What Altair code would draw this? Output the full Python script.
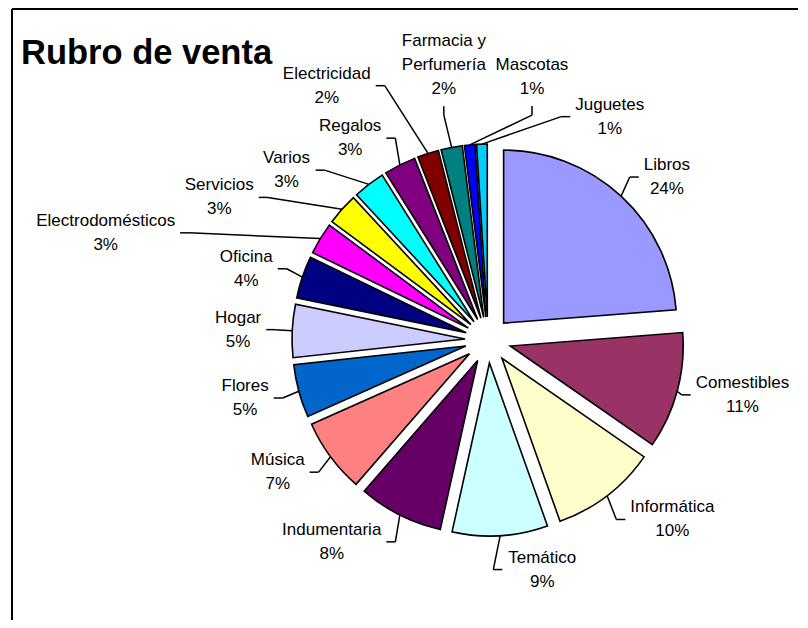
import math
import altair as alt
import pandas as pd

# ---------------- data ----------------
categories = ["Libros", "Comestibles", "Informática", "Temático", "Indumentaria",
              "Música", "Flores", "Hogar", "Oficina", "Electrodomésticos",
              "Servicios", "Varios", "Regalos", "Electricidad",
              "Farmacia y Perfumería", "Mascotas", "Juguetes"]
values = [24, 11, 10, 9, 8, 7, 5, 5, 4, 3, 3, 3, 3, 2, 2, 1, 1]
colors = ["#9999FF", "#993366", "#FFFFCC", "#CCFFFF", "#660066", "#FF8080",
          "#0066CC", "#CCCCFF", "#000080", "#FF00FF", "#FFFF00", "#00FFFF",
          "#800080", "#800000", "#008080", "#0000FF", "#00CCFF"]
title_text = "Rubro de venta"

# ---------------- layout / style ----------------
W, H = 792, 612          # chart size (page minus 8px margins)
CX, CY = 480, 332        # pie centre in chart pixels
RADIUS = 173
EXPLODE = 23
FONT = "Liberation Sans"
FS = 17
LH = 24
R0 = 222                 # default leader-end radius
TOP_EXTRA = 16           # labels sitting above the pie stand a bit further out
GAP = 5
ELBOW = 9

total = float(sum(values))

AW = {' ': 278, '%': 889, 'A': 667, 'B': 667, 'C': 722, 'D': 722, 'E': 667, 'F': 611,
      'G': 778, 'H': 722, 'I': 278, 'J': 500, 'K': 667, 'L': 556, 'M': 833, 'N': 722,
      'O': 778, 'P': 667, 'Q': 778, 'R': 722, 'S': 667, 'T': 611, 'U': 722, 'V': 667,
      'W': 944, 'X': 667, 'Y': 667, 'Z': 611, 'a': 556, 'b': 556, 'c': 500, 'd': 556,
      'e': 556, 'f': 278, 'g': 556, 'h': 556, 'i': 222, 'j': 222, 'k': 500, 'l': 222,
      'm': 833, 'n': 556, 'o': 556, 'p': 556, 'q': 556, 'r': 333, 's': 500, 't': 278,
      'u': 556, 'v': 500, 'w': 722, 'x': 500, 'y': 500, 'z': 500, 'á': 556, 'é': 556,
      'í': 278, 'ó': 556, 'ú': 556}


def text_w(s):
    return sum(AW.get(ch, 556) for ch in s) * FS / 1000.0


def to_ux(px):
    return (px - CX) / RADIUS


def to_uy(py):
    return (CY - py) / RADIUS


def place(a, r, w, h):
    s, c = math.sin(a), math.cos(a)
    if c > 0 and abs(s) < 0.2:
        r += TOP_EXTRA
        ax, ay = CX + r * s, CY - r * c
        bx, by = ax, ay - (GAP + h / 2)
        ex, ey = ax, ay + ELBOW
    else:
        ax, ay = CX + r * s, CY - r * c
        sg = 1 if s >= 0 else -1
        bx, by = ax + sg * (GAP + w / 2), ay
        ex, ey = ax - sg * ELBOW, ay
    return bx, by, ax, ay, ex, ey


def overlaps(r1, r2):
    return not (r1[2] <= r2[0] or r2[2] <= r1[0] or r1[3] <= r2[1] or r2[3] <= r1[1])


def seg_hits(rect, p, q, n=30):
    for k in range(n + 1):
        t = k / n
        x = p[0] + (q[0] - p[0]) * t
        y = p[1] + (q[1] - p[1]) * t
        if rect[0] < x < rect[2] and rect[1] < y < rect[3]:
            return True
    return False


def _orient(p, q, r):
    v = (q[0] - p[0]) * (r[1] - p[1]) - (q[1] - p[1]) * (r[0] - p[0])
    return (v > 1e-9) - (v < -1e-9)


def seg_cross(a, b, c, d):
    return (_orient(a, b, c) * _orient(a, b, d) < 0) and (_orient(c, d, a) * _orient(c, d, b) < 0)


def dist_to_rect(rect):
    dx = max(rect[0] - CX, 0, CX - rect[2])
    dy = max(rect[1] - CY, 0, CY - rect[3])
    return math.hypot(dx, dy)


def move_cost(da, dr):
    return abs(da) * 1.0 + (dr * 0.1 if dr >= 0 else -dr * 0.6)


cands = sorted((move_cost(da, dr), da, dr)
               for da in range(-40, 41, 2) for dr in range(-16, 161, 4))

# slices data table
rows = []
cum = 0.0
for i, (cat, v) in enumerate(zip(categories, values)):
    t0, t1 = cum, cum + v
    cum = t1
    mid = (t0 + t1) / 2 / total * 2 * math.pi
    rows.append({"i": i, "cat": cat, "v": v, "t0": t0, "t1": t1, "mid": mid})

# bigger slices are labelled first; among equals the one nearest the top goes
# first, except the smallest slices, which keep their order round the pie
vmin = min(values)


def priority(r):
    d_top = min(r["mid"], 2 * math.pi - r["mid"])
    return (-r["v"], r["i"] if r["v"] == vmin else d_top)


title_box = (10, 20, 266, 62)
boxes = [title_box]
segs = []
placed = {}
for r in sorted(rows, key=priority):
    mid = r["mid"]
    lines = r["cat"].replace(" y ", " y\n").split("\n") + [f"{round(100 * r['v'] / total)}%"]
    w = max(text_w(l) for l in lines)
    h = LH * len(lines)
    px = CX + (RADIUS + EXPLODE) * math.sin(mid)
    py = CY - (RADIUS + EXPLODE) * math.cos(mid)
    best, best_score = None, None
    for cost, da, dr in cands:
        g = place(mid + math.radians(da), R0 + dr, w, h)
        rect = (g[0] - w / 2 - 3, g[1] - h / 2 - 2, g[0] + w / 2 + 3, g[1] + h / 2 + 2)
        if rect[0] < 6 or rect[2] > W - 6 or rect[1] < 6 or rect[3] > H - 6:
            continue
        if dist_to_rect(rect) < RADIUS + EXPLODE + 8:
            continue
        bad = 1000 * sum(overlaps(rect, b) for b in boxes)
        if best_score is not None and cost + bad >= best_score:
            continue
        new_segs = [((px, py), (g[4], g[5])), ((g[4], g[5]), (g[2], g[3]))]
        bad += 100 * sum(seg_hits(rect, s0, s1) for s0, s1 in segs)
        bad += 100 * sum(seg_hits(b, s0, s1) for b in boxes for s0, s1 in new_segs)
        bad += 100 * sum(seg_cross(a0, a1, b0, b1) for a0, a1 in new_segs for b0, b1 in segs)
        score = cost + bad
        if best_score is None or score < best_score:
            best, best_score = (g, rect, new_segs, lines), score
        if bad == 0:
            break
    g, rect, new_segs, lines = best
    boxes.append(rect)
    segs.extend(new_segs)
    placed[r["i"]] = (g, new_segs, lines)

arc_rows, txt_rows, seg_rows = [], [], []
for r in rows:
    mid = r["mid"]
    arc_rows.append({"cat": r["cat"], "t0": r["t0"], "t1": r["t1"],
                     "ux": EXPLODE / RADIUS * math.sin(mid),
                     "uy": EXPLODE / RADIUS * math.cos(mid)})
    g, new_segs, lines = placed[r["i"]]
    # Vega puts the first line at the anchor: lift it so the block is centred
    first_line_y = g[1] - (len(lines) - 1) * LH / 2
    txt_rows.append({"cat": r["cat"], "label": "\n".join(lines),
                     "ux": to_ux(g[0]), "uy": to_uy(first_line_y)})
    for (s0, s1) in new_segs:
        seg_rows.append({"x0": to_ux(s0[0]), "y0": to_uy(s0[1]),
                         "x1": to_ux(s1[0]), "y1": to_uy(s1[1])})

df_arc = pd.DataFrame(arc_rows)
df_txt = pd.DataFrame(txt_rows)
df_seg = pd.DataFrame(seg_rows)

xs = alt.Scale(domain=[to_ux(0), to_ux(W)], nice=False, zero=False)
ys = alt.Scale(domain=[to_uy(H), to_uy(0)], nice=False, zero=False)

arcs = alt.Chart(df_arc).mark_arc(radius=RADIUS, stroke="black", strokeWidth=1.6).encode(
    x=alt.X("ux:Q", scale=xs, axis=None),
    y=alt.Y("uy:Q", scale=ys, axis=None),
    theta=alt.Theta("t0:Q", scale=alt.Scale(domain=[0, total], range=[0, 2 * math.pi]), stack=False),
    theta2=alt.Theta2("t1:Q"),
    color=alt.Color("cat:N", scale=alt.Scale(domain=categories, range=colors), legend=None),
)

leaders = alt.Chart(df_seg).mark_rule(color="black", strokeWidth=1.5).encode(
    x=alt.X("x0:Q", scale=xs, axis=None),
    y=alt.Y("y0:Q", scale=ys, axis=None),
    x2="x1:Q",
    y2="y1:Q",
)

labels = alt.Chart(df_txt).mark_text(
    font=FONT, fontSize=FS, lineHeight=LH, lineBreak="\n",
    align="center", baseline="middle", color="black"
).encode(
    x=alt.X("ux:Q", scale=xs, axis=None),
    y=alt.Y("uy:Q", scale=ys, axis=None),
    text="label:N",
)

frame_top = alt.Chart().mark_rule(color="black", strokeWidth=2).encode(
    x=alt.value(4), x2=alt.value(790), y=alt.value(1))
frame_left = alt.Chart().mark_rule(color="black", strokeWidth=2).encode(
    x=alt.value(4), y=alt.value(1), y2=alt.value(H))

chart = alt.layer(frame_top, frame_left, arcs, leaders, labels).properties(
    width=W, height=H,
    autosize=alt.AutoSizeParams(type="none"),
    padding=0,
    title=alt.TitleParams(title_text, anchor="start", frame="group", orient="top",
                          offset=-54, dx=13, dy=36, baseline="alphabetic", font=FONT,
                          fontSize=34.5, fontWeight="bold", color="black"),
).configure_view(stroke=None)

chart.save("out.html", embed_options={"renderer": "svg", "actions": False})
